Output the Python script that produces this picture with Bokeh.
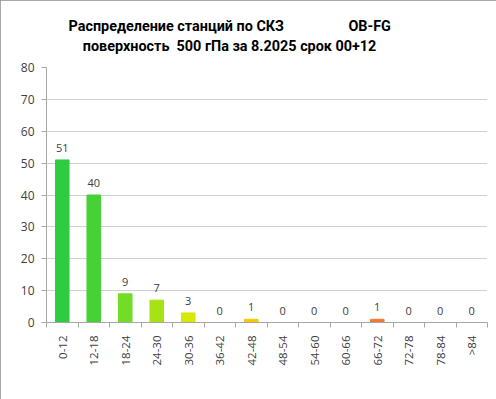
import numpy as np
from bokeh.plotting import figure
from bokeh.models import (ColumnDataSource, FixedTicker, LabelSet, Title, Range1d)
from bokeh.core.properties import value
from bokeh.embed import file_html
from bokeh.resources import INLINE

categories = ["0-12", "12-18", "18-24", "24-30", "30-36", "36-42", "42-48",
              "48-54", "54-60", "60-66", "66-72", "72-78", "78-84", ">84"]
counts = [51, 40, 9, 7, 3, 0, 1, 0, 0, 0, 1, 0, 0, 0]
colors = ["#2ecc40", "#46d236", "#72dc26", "#a6e214", "#d8e800", "#f0dc00",
          "#f8c800", "#f8b400", "#f8a000", "#f48c10", "#f07830", "#e86020",
          "#e04818", "#d83010"]
y_ticks = [0, 10, 20, 30, 40, 50, 60, 70, 80]
title_line1 = "Распределение станций по СКЗ" + "\u00a0" * 18 + "OB-FG"
title_line2 = "\u00a0" * 4 + "поверхность\u00a0 500 гПа за 8.2025 срок 00+12"

n = len(categories)
xs = np.arange(n) + 0.5
src = ColumnDataSource(dict(x=xs, y=counts, color=colors,
                            label=[str(c) for c in counts]))

FONT = "Open Sans"
TFONT = "Roboto"

p = figure(frame_width=441, frame_height=255, output_backend="svg",
           toolbar_location=None, x_range=Range1d(0, n), y_range=Range1d(0, 80),
           min_border_left=46, min_border_right=9, min_border_top=67,
           min_border_bottom=77)
p.outline_line_color = None
p.background_fill_color = "white"
p.border_fill_color = "white"
p.styles = {"outline": "1px solid #8c8c8c", "outline-offset": "-1px"}

p.vbar(x="x", top="y", width=0.43, color="color", source=src)

labels = LabelSet(x="x", y="y", text="label", source=src, y_offset=8,
                  text_align="center", text_baseline="alphabetic",
                  text_font=value(FONT), text_font_size="11px",
                  text_color="#404040")
p.add_layout(labels)

# y axis
p.yaxis.ticker = FixedTicker(ticks=y_ticks)
p.yaxis.axis_line_color = "#a6a6a6"
p.yaxis.major_tick_line_color = "#a6a6a6"
p.yaxis.major_tick_out = 5
p.yaxis.major_tick_in = 0
p.yaxis.minor_tick_line_color = None
p.yaxis.major_label_text_font = FONT
p.yaxis.major_label_text_font_size = "12px"
p.yaxis.major_label_text_color = "#404040"
p.yaxis.major_label_standoff = 7

# x axis: labels at centres, tick marks between categories
p.xaxis.ticker = FixedTicker(ticks=list(xs), minor_ticks=list(range(n + 1)))
p.xaxis.major_label_overrides = {float(x): c for x, c in zip(xs, categories)}
p.xaxis.major_label_orientation = np.pi / 2
p.xaxis.axis_line_color = "#a6a6a6"
p.xaxis.major_tick_line_color = None
p.xaxis.major_tick_out = 0
p.xaxis.major_tick_in = 0
p.xaxis.minor_tick_line_color = "#a6a6a6"
p.xaxis.minor_tick_out = 5
p.xaxis.minor_tick_in = 0
p.xaxis.major_label_text_font = FONT
p.xaxis.major_label_text_font_size = "11.5px"
p.xaxis.major_label_text_color = "#404040"
p.xaxis.major_label_standoff = 8

p.xgrid.grid_line_color = None
p.ygrid.ticker = FixedTicker(ticks=y_ticks)
p.ygrid.grid_line_color = "#d0d0d0"
p.ygrid.grid_line_width = 1

p.add_layout(Title(text=title_line1 + "\n" + title_line2, align="left",
                   offset=22, text_font=TFONT, text_font_size="14.4px",
                   text_font_style="bold", text_color="#000000",
                   text_line_height=1.2, standoff=24), "above")

open("out.html", "w").write(file_html(p, INLINE))
